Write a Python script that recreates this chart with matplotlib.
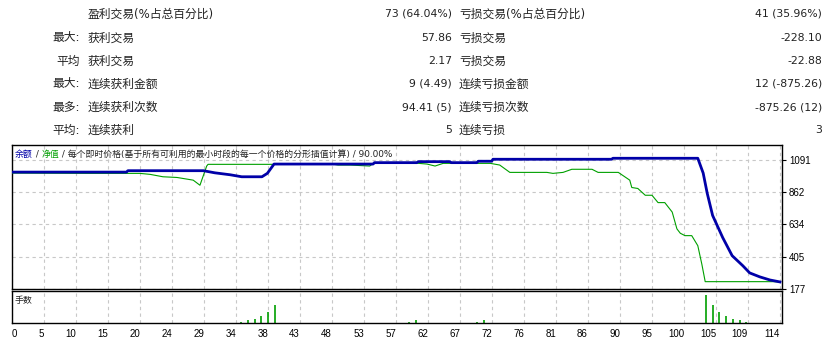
import matplotlib
matplotlib.use('Agg')
import matplotlib.pyplot as plt
import numpy as np

# top statistics table
row_heads = ['', '最大:', '平均', '最大:', '最多:', '平均:']
win_labels = ['盈利交易(%占总百分比)', '获利交易', '获利交易', '连续获利金额', '连续获利次数', '连续获利']
win_values = ['73 (64.04%)', '57.86', '2.17', '9 (4.49)', '94.41 (5)', '5']
loss_labels = ['亏损交易(%占总百分比)', '亏损交易', '亏损交易', '连续亏损金额', '连续亏损次数', '连续亏损']
loss_values = ['41 (35.96%)', '-228.10', '-22.88', '12 (-875.26)', '-875.26 (12)', '3']

# balance curve (trade number, value)
balance_x = [0, 17, 17.2, 28.4, 30.1, 32.4, 34.1, 37.1, 37.9, 38.9, 53.6, 53.8, 60.1, 60.3, 65, 65.2,
             69, 69.2, 71.2, 71.4, 89, 89.2, 101.8, 102.6, 103.2, 104, 105.5, 106.9, 108.5, 109.5,
             111, 112.5, 114]
balance_y = [1005, 1005, 1015, 1015, 1000, 986, 972, 972, 996, 1062, 1062, 1072, 1072, 1079, 1079, 1072,
             1072, 1082, 1082, 1096, 1096, 1103, 1103, 998, 855, 698, 541, 413, 341, 291,
             263, 241, 227]

# equity curve
equity_x = [0, 11.6, 19.0, 20.5, 22.4, 24.5, 26.9, 27.9, 28.9, 29.1, 38.7, 39.0, 47.6, 48.4, 50.2, 53.1,
            53.6, 59.1, 61.6, 62.8, 64.0, 71.0, 72.4, 73.9, 79.4, 80.3, 81.8, 83.1, 86.1, 87.0, 90.0,
            91.7, 92.0, 92.9, 94.0, 95.0, 95.9, 96.9, 98.0, 98.7, 99.2, 99.9, 100.9, 101.8, 102.4,
            102.9, 113.0, 114]
equity_y = [998, 996, 996, 989, 972, 967, 948, 912, 1048, 1060, 1060, 1062, 1062, 1055, 1055, 1048,
            1067, 1072, 1062, 1048, 1067, 1067, 1055, 1003, 1003, 996, 1003, 1025, 1025, 1003, 1003,
            948, 896, 889, 841, 841, 789, 789, 722, 603, 572, 555, 555, 484, 353,
            229, 229, 227]

# lots per trade
lot_x = [34, 35, 36, 37, 38, 39, 59, 60, 69, 70, 103, 104, 105, 106, 107, 108, 109]
lot_y = [0.01, 0.02, 0.03, 0.05, 0.08, 0.13, 0.01, 0.02, 0.01, 0.02, 0.20, 0.13, 0.08, 0.05, 0.03, 0.02, 0.01]

x_tick_labels = ['0', '5', '10', '15', '20', '24', '29', '34', '38', '43', '48', '53', '57', '62', '67',
                 '72', '76', '81', '86', '90', '95', '100', '105', '109', '114']
y_tick_values = [177, 405, 634, 862, 1091]

cjk = ['DejaVu Sans', 'Noto Sans CJK SC']
blue = '#0000A8'
green = '#00A000'
gridc = '#C8C8C8'
txtc = '#222222'

fig = plt.figure(figsize=(8.33, 3.43), dpi=100)

# table
row_y = [14, 38, 61, 84, 107, 130]
for i in range(6):
    y = 1 - row_y[i] / 343
    fig.text(80 / 833, y, row_heads[i], ha='right', va='center', family=cjk, fontsize=8.5, color=txtc)
    fig.text(88 / 833, y, win_labels[i], ha='left', va='center', family=cjk, fontsize=8.5, color=txtc)
    fig.text(452 / 833, y, win_values[i], ha='right', va='center', family='DejaVu Sans', fontsize=7.8, color=txtc)
    fig.text(459 / 833, y, loss_labels[i], ha='left', va='center', family=cjk, fontsize=8.5, color=txtc)
    fig.text(822 / 833, y, loss_values[i], ha='right', va='center', family='DejaVu Sans', fontsize=7.8, color=txtc)

x_ticks = [k * 4.75 for k in range(len(x_tick_labels))]
xmax = 114.3

ax = fig.add_axes([12 / 833, 1 - 289 / 343, 770 / 833, 144 / 343])
ax.plot(equity_x, equity_y, color=green, lw=0.8, zorder=3)
ax.plot(balance_x, balance_y, color=blue, lw=2.0, zorder=4)
ax.set_xlim(0, xmax)
ax.set_ylim(177, 1197)
ax.set_xticks(x_ticks)
ax.tick_params(axis='x', length=0, labelbottom=False)
ax.yaxis.tick_right()
ax.set_yticks(y_tick_values)
ax.set_yticklabels([str(v) for v in y_tick_values])
ax.tick_params(axis='y', length=3, pad=2, labelsize=7, width=0.8)
for lbl in ax.get_yticklabels():
    lbl.set_family('Liberation Sans')
ax.grid(True, color=gridc, ls=(0, (3, 3)), lw=0.8)
for s in ax.spines.values():
    s.set_linewidth(1.0)

# legend line
t1 = ax.text(3 / 770, 1 - 9 / 144, '余额', transform=ax.transAxes, color=blue, family=cjk,
             fontsize=6.4, va='center', ha='left', zorder=6)
t2 = ax.annotate(' / ', xy=(1, 0), xycoords=t1, va='bottom', ha='left', family=cjk, fontsize=6.4, color=txtc)
t3 = ax.annotate('净值', xy=(1, 0), xycoords=t2, va='bottom', ha='left', family=cjk, fontsize=6.4, color=green)
ax.annotate(' / 每个即时价格(基于所有可利用的最小时段的每一个价格的分形插值计算) / 90.00%', xy=(1, 0),
            xycoords=t3, va='bottom', ha='left', family=cjk, fontsize=6.4, color=txtc)

# lots panel
ax2 = fig.add_axes([12 / 833, 1 - 323 / 343, 770 / 833, 32 / 343])
ax2.vlines(lot_x, 0, lot_y, color=green, lw=1.2)
ax2.set_xlim(0, xmax)
ax2.set_ylim(0, 0.225)
ax2.set_yticks([])
ax2.set_xticks(x_ticks)
ax2.set_xticklabels(x_tick_labels)
ax2.tick_params(axis='x', length=0, pad=4, labelsize=7)
for i, lbl in enumerate(ax2.get_xticklabels()):
    lbl.set_family('Liberation Sans')
    lbl.set_ha('left' if i == 0 else 'right')
ax2.grid(True, axis='x', color=gridc, ls=(0, (3, 3)), lw=0.8)
for s in ax2.spines.values():
    s.set_linewidth(1.0)
ax2.text(3 / 770, 1 - 9 / 32, '手数', transform=ax2.transAxes, family=cjk, fontsize=6.4,
         va='center', ha='left', color=txtc)

fig.savefig('out.png', dpi=100)
